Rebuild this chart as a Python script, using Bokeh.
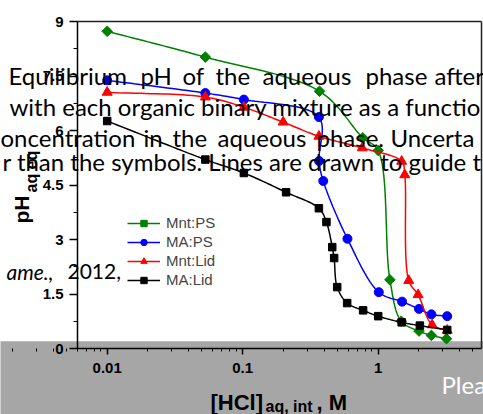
import numpy as np
from bokeh.plotting import figure
from bokeh.models import (Range1d, FixedTicker, CustomJSTickFormatter, Label,
                          BoxAnnotation, Legend, LegendItem, LinearAxis, LogAxis)
from bokeh.embed import file_html
from bokeh.resources import INLINE

# ---------------- data ----------------
mnt_ps_x = [0.01, 0.053, 0.369, 0.769, 1.0, 1.22, 1.48, 2.0, 2.47, 3.19]
mnt_ps_y = [8.73, 8.02, 7.08, 5.80, 5.45, 1.89, 0.75, 0.48, 0.36, 0.27]

ma_ps_x = [0.01, 0.053, 0.102, 0.365, 0.366, 0.393, 0.593, 1.01, 1.50, 2.0, 2.47, 3.23]
ma_ps_y = [7.38, 7.03, 6.85, 6.37, 5.16, 4.61, 3.02, 1.55, 1.29, 1.09, 0.94, 0.89]

mnt_lid_x = [0.01, 0.053, 0.102, 0.199, 0.365, 0.762, 1.49, 1.57, 1.68, 1.97, 2.50, 3.23]
mnt_lid_y = [7.05, 6.92, 6.64, 6.23, 5.84, 5.52, 5.15, 4.78, 1.87, 1.48, 0.65, 0.50]

ma_lid_x = [0.01, 0.053, 0.102, 0.209, 0.365, 0.415, 0.458, 0.473, 0.498, 0.590,
            0.774, 1.0, 1.49, 2.03, 3.23]
ma_lid_y = [6.26, 5.20, 4.83, 4.30, 3.86, 3.48, 2.79, 2.49, 1.69, 1.25,
            1.05, 0.89, 0.72, 0.63, 0.51]

x_ticks = [0.01, 0.1, 1]
y_ticks = [0, 1.5, 3, 4.5, 6, 7.5, 9]

# ---------------- geometry (page pixels) ----------------
W, H = 483, 414
FL, FR, FT, FB = 77.0, 481.0, 21.0, 348.0        # plot box in the picture
PX_DEC = 135.5                                    # pixels per decade
X0_PX = 106.7                                     # pixel of x = 0.01
PY_MIN, PY_MAX = 0.0, 9.0
PX_UNIT = (FB - FT) / (PY_MAX - PY_MIN)
BASE_FIX = 0.27                                   # baseline correction (em)


def dx(px):
    return 10 ** (-2 + (px - X0_PX) / PX_DEC)


def dy(py):
    return PY_MIN + (FB - py) / PX_UNIT


XA, XB = dx(FL), dx(FR)       # plot box in data units


def smooth(xs, ys, n=20):
    """centripetal Catmull-Rom guide line through the points (drawn in screen-like space)"""
    P = np.column_stack([np.log10(xs) * PX_DEC, np.array(ys) * PX_UNIT])
    P = np.vstack([2 * P[0] - P[1], P, 2 * P[-1] - P[-2]])
    out = [P[1]]
    for i in range(1, len(P) - 2):
        p0, p1, p2, p3 = P[i - 1], P[i], P[i + 1], P[i + 2]
        t0 = 0.0
        t1 = t0 + max(np.linalg.norm(p1 - p0), 1e-6) ** 0.5
        t2 = t1 + max(np.linalg.norm(p2 - p1), 1e-6) ** 0.5
        t3 = t2 + max(np.linalg.norm(p3 - p2), 1e-6) ** 0.5
        for t in np.linspace(t1, t2, n)[1:]:
            a1 = (t1 - t) / (t1 - t0) * p0 + (t - t0) / (t1 - t0) * p1
            a2 = (t2 - t) / (t2 - t1) * p1 + (t - t1) / (t2 - t1) * p2
            a3 = (t3 - t) / (t3 - t2) * p2 + (t - t2) / (t3 - t2) * p3
            b1 = (t2 - t) / (t2 - t0) * a1 + (t - t0) / (t2 - t0) * a2
            b2 = (t3 - t) / (t3 - t1) * a2 + (t - t1) / (t3 - t1) * a3
            c = (t2 - t) / (t2 - t1) * b1 + (t - t1) / (t2 - t1) * b2
            out.append(c)
    out = np.array(out)
    return 10 ** (out[:, 0] / PX_DEC), out[:, 1] / PX_UNIT


# the frame fills the whole canvas; axes are pinned at the plot box edges
p = figure(width=W, height=H, x_axis_type="log",
           x_axis_location=None, y_axis_location=None,
           x_range=Range1d(dx(0), dx(W)), y_range=Range1d(dy(H), dy(0)),
           output_backend="svg", toolbar_location=None,
           min_border=0, min_border_left=0, min_border_right=0,
           min_border_top=0, min_border_bottom=0)
p.grid.visible = False
p.background_fill_color = "white"
p.border_fill_color = "white"
p.outline_line_color = None

# grey banner at the bottom of the picture
p.add_layout(BoxAnnotation(left=dx(-20), right=dx(W + 20), bottom=dy(H + 20),
                           top=dy(340.7), fill_color="#a6a6a6", fill_alpha=1.0,
                           line_color=None, level="underlay"))

xa = LogAxis(fixed_location=PY_MIN, bounds=(XA, XB))
ya = LinearAxis(fixed_location=XA, bounds=(PY_MIN, PY_MAX))
ta = LinearAxis(fixed_location=PY_MAX, bounds=(XA, XB))
ra = LinearAxis(fixed_location=XB, bounds=(PY_MIN, PY_MAX))
p.add_layout(xa, "below")
p.add_layout(ya, "left")
p.add_layout(ta, "above")
p.add_layout(ra, "right")

for ax in (xa, ya):
    ax.axis_line_width = 1.5
    ax.axis_line_color = "black"
    ax.major_tick_line_width = 1.5
    ax.minor_tick_line_width = 1
    ax.major_tick_in = 0
    ax.minor_tick_in = 0
    ax.major_label_text_font = "Liberation Sans"
    ax.major_label_text_font_style = "bold"
    ax.major_label_text_font_size = "15px"
    ax.major_label_text_color = "black"
    ax.formatter = CustomJSTickFormatter(code="return String(tick);")

for ax in (ta, ra):
    ax.axis_line_width = 1.5
    ax.axis_line_color = "#222222"
    ax.ticker = FixedTicker(ticks=[], minor_ticks=[])
    ax.major_tick_line_color = None
    ax.minor_tick_line_color = None
    ax.major_label_text_alpha = 0

minor_x = [m * 10.0 ** e for e in (-3, -2, -1, 0) for m in range(2, 10)]
xa.ticker = FixedTicker(ticks=x_ticks, minor_ticks=minor_x)
xa.major_tick_out = 6
xa.minor_tick_out = 3
xa.major_label_standoff = 8

ya.ticker = FixedTicker(ticks=y_ticks, minor_ticks=[v + 0.75 for v in y_ticks[:-1]])
ya.major_tick_out = 8
ya.minor_tick_out = 4
ya.major_label_standoff = 6

# series
series = [
    ("Mnt:PS", mnt_ps_x, mnt_ps_y, "#008000", "square", 7.5, np.pi / 4),
    ("MA:PS", ma_ps_x, ma_ps_y, "#0000ff", "circle", 9, 0.0),
    ("Mnt:Lid", mnt_lid_x, mnt_lid_y, "#ff0000", "triangle", 10, 0.0),
    ("MA:Lid", ma_lid_x, ma_lid_y, "#000000", "square", 7.5, 0.0),
]
items = []
for name, xs, ys, col, mk, sz, ang in series:
    cx, cy = smooth(xs, ys)
    lr = p.line(cx, cy, line_color=col, line_width=1.5)
    sr = p.scatter(xs, ys, marker=mk, size=sz, angle=ang,
                   fill_color=col, line_color=col)
    items.append(LegendItem(label=name, renderers=[lr, sr]))

legend = Legend(items=items, location=(127, H - 288), orientation="vertical",
                padding=0, margin=0, spacing=2, glyph_width=33, glyph_height=16,
                label_height=16, label_standoff=6,
                label_text_font="Liberation Sans", label_text_font_size="15px",
                border_line_color=None, background_fill_alpha=0.0)
p.add_layout(legend)


def lab(text, px, py, size, font="Liberation Sans", style="normal",
        color="black", angle=0.0):
    if angle == 0:
        py = py - BASE_FIX * size
    else:
        px = px - BASE_FIX * size
    p.add_layout(Label(x=dx(px), y=dy(py), text=text, text_font=font,
                       text_font_size=f"{size}px", text_font_style=style,
                       text_color=color, text_align="left",
                       text_baseline="alphabetic", angle=angle,
                       angle_units="deg"))


# axis titles
lab("[HCl]", 210, 408, 22, style="bold")
lab("aq, int", 265, 410, 16, style="bold")
lab(", M", 316, 408, 22, style="bold")
lab("pH", 27, 223, 21, style="bold", angle=90)
lab("aq eq", 35, 192, 16, style="bold", angle=90)

# caption text lying over the chart in the picture
CAP = 24
justified_lines = [
    (81, [("Equilibrium", 8), ("pH", 140), ("of", 182), ("the", 215),
          ("aqueous", 262), ("phase", 365), ("after", 434)]),
    (143, [("oncentration", 0), ("in", 143), ("the", 172), ("aqueous", 217),
           ("phase.", 316), ("Uncerta", 390)]),
]
for base, words in justified_lines:
    for w, x0 in words:
        lab(w, x0, base, CAP, font="Lato")
lab("with each organic binary mixture as a functio", 9, 112, CAP, font="Lato")
lab("r than the symbols. Lines are drawn to guide t", 2, 167, CAP, font="Lato")
lab("ame.,", 6, 277, 21, font="Lato", style="italic")
lab("2012,", 67, 277, 21, font="Lato")
lab("Plea", 441, 390, 24, font="Lato", color="white")

open("out.html", "w").write(file_html(p, INLINE))
